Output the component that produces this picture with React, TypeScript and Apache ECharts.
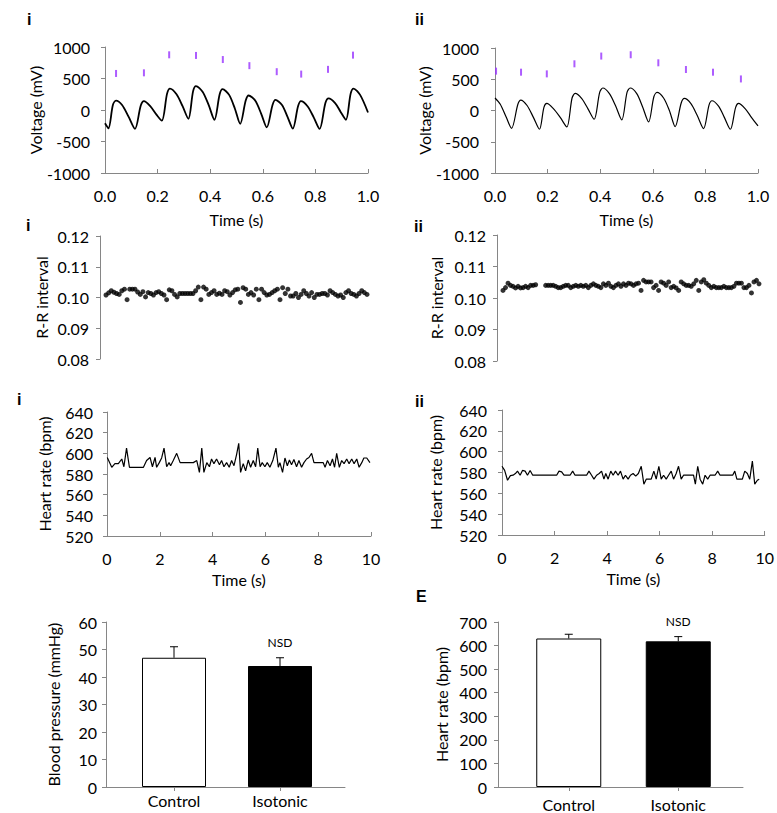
import React, { useEffect, useRef } from 'react';
import * as echarts from 'echarts';

// ---------- Data ----------
// Panel i: voltage trace [time s, mV]
const voltageTraceI: number[][] = [
  [0.000, -210], [0.013, -290], [0.030, 80], [0.042, 150], [0.065, 80], [0.090, -110], [0.114, -300],
  [0.136, 70], [0.148, 140], [0.172, 60], [0.195, -70], [0.216, -170],
  [0.236, 260], [0.247, 340], [0.272, 250], [0.295, 60], [0.317, -140],
  [0.335, 300], [0.346, 380], [0.371, 290], [0.394, 80], [0.416, -155],
  [0.436, 250], [0.447, 330], [0.472, 240], [0.494, 20], [0.514, -220],
  [0.535, 150], [0.546, 230], [0.571, 150], [0.594, -60], [0.615, -275],
  [0.637, 80], [0.648, 160], [0.673, 80], [0.694, -110], [0.714, -295],
  [0.734, 60], [0.745, 140], [0.770, 60], [0.794, -120], [0.816, -300],
  [0.838, 110], [0.850, 185], [0.875, 110], [0.896, -30], [0.916, -155],
  [0.934, 260], [0.945, 340], [0.970, 240], [1.000, -40],
];
const voltageMarksI: number[][] = [
  [0.042, 580], [0.148, 590], [0.244, 876], [0.346, 866], [0.448, 801],
  [0.549, 704], [0.653, 608], [0.746, 570], [0.848, 645], [0.943, 871],
];
// Panel ii: voltage trace
const voltageTraceII: number[][] = [
  [0.000, 200], [0.020, 100], [0.042, -100], [0.063, -285],
  [0.087, 100], [0.098, 167], [0.122, 80], [0.146, -110], [0.169, -300],
  [0.186, 50], [0.197, 113], [0.222, 30], [0.248, -110], [0.273, -263],
  [0.293, 200], [0.305, 274], [0.330, 190], [0.353, 30], [0.377, -140],
  [0.398, 290], [0.410, 360], [0.435, 270], [0.458, 80], [0.482, -150],
  [0.502, 290], [0.514, 360], [0.539, 270], [0.561, 60], [0.584, -183],
  [0.604, 220], [0.616, 290], [0.641, 200], [0.663, 0], [0.685, -258],
  [0.708, 120], [0.720, 194], [0.745, 110], [0.769, -80], [0.793, -290],
  [0.814, 90], [0.825, 156], [0.850, 70], [0.872, -110], [0.895, -300],
  [0.915, 50], [0.926, 113], [0.951, 30], [0.975, -110], [1.000, -247],
];
const voltageMarksII: number[][] = [
  [0.004, 630], [0.099, 613], [0.197, 586], [0.302, 747], [0.404, 871],
  [0.516, 892], [0.621, 763], [0.726, 656], [0.829, 613], [0.935, 505],
];

// R-R intervals (s), one per beat
const rrI: (number | string)[] = [
  0.1008, 0.1015, 0.1022, 0.1017, 0.1013, 0.1010, 0.1022, 0.1027, 0.0993, 0.1027,
  0.1027, 0.1027, 0.1018, 0.1010, 0.1019, 0.1002, 0.1016, 0.1013, 0.1008, 0.1016,
  0.1019, 0.1013, 0.1008, 0.0993, 0.1025, 0.1022, 0.1010, 0.1002, 0.1013, 0.1013,
  0.1013, 0.1013, 0.1013, 0.1013, 0.1022, 0.1034, 0.0993, 0.1034, 0.1027, 0.1010,
  0.1016, 0.1022, 0.1010, 0.1014, 0.1010, 0.1022, 0.1019, 0.1008, 0.1016, 0.1025,
  0.1027, 0.0984, 0.1032, 0.1027, 0.1010, 0.1016, 0.1008, 0.1027, 0.0993, 0.1027,
  0.1016, 0.1008, 0.1010, 0.1016, 0.1022, 0.1027, 0.0993, 0.1032, 0.1013, 0.1027,
  0.1005, 0.1005, 0.1013, 0.1000, 0.1010, 0.1022, 0.1013, 0.1005, 0.1016, 0.1000,
  0.1010, 0.1010, 0.1013, 0.1013, 0.1008, 0.1022, 0.1016, 0.1010, 0.1005, 0.1008,
  0.1000, 0.1016, 0.1022, 0.1013, 0.1010, 0.1005, 0.1013, 0.1022, 0.1016, 0.1010,
];
const rrII: (number | string)[] = [
  0.1024, 0.1033, 0.1047, 0.1040, 0.1037, 0.1032, 0.1037, 0.1032, 0.1033, 0.1037,
  0.1033, 0.1040, 0.1040, 0.1042, '-', '-', '-', 0.1040, 0.1040, 0.1040,
  0.1040, 0.1037, 0.1033, 0.1033, 0.1037, 0.1040, 0.1040, 0.1033, 0.1037, 0.1040,
  0.1037, 0.1040, 0.1037, 0.1040, 0.1033, 0.1040, 0.1045, 0.1040, 0.1037, 0.1033,
  0.1045, 0.1040, 0.1047, 0.1037, 0.1033, 0.1040, 0.1045, 0.1037, 0.1045, 0.1040,
  0.1047, 0.1045, 0.1040, 0.1045, 0.1047, 0.1024, 0.1056, 0.1051, 0.1051, 0.1051,
  0.1033, 0.1040, 0.1024, 0.1051, 0.1047, 0.1040, 0.1051, 0.1033, 0.1037, 0.1032,
  0.1024, 0.1051, 0.1045, 0.1040, 0.1040, 0.1037, 0.1045, 0.1056, 0.1024, 0.1051,
  0.1058, 0.1047, 0.1040, 0.1033, 0.1037, 0.1033, 0.1033, 0.1033, 0.1037, 0.1033,
  0.1033, 0.1033, 0.1037, 0.1047, 0.1047, 0.1047, 0.1033, 0.1033, 0.1040, 0.1016,
  0.1051, 0.1056, 0.1045,
];

// Heart rate traces [time s, bpm]
const heartRateI: number[][] = [
  [0.01, 596], [0.18, 586.5], [0.30, 590], [0.43, 590], [0.56, 594.5], [0.64, 587], [0.74, 605], [0.85, 586.5],
  [1.38, 586.5], [1.50, 593], [1.63, 596], [1.72, 587], [1.82, 596], [1.88, 586.5], [1.98, 591], [2.07, 595.5],
  [2.16, 605], [2.26, 587], [2.35, 591], [2.41, 588], [2.51, 593], [2.64, 600], [2.77, 591], [3.27, 591],
  [3.40, 593], [3.50, 581.6], [3.59, 605], [3.67, 581.6], [3.78, 591], [3.88, 587], [3.96, 594.5], [4.05, 590],
  [4.15, 594.5], [4.26, 589], [4.34, 593], [4.43, 587], [4.53, 591], [4.63, 586.5], [4.72, 593], [4.81, 588],
  [4.91, 599], [4.99, 609.7], [5.06, 581.6], [5.16, 590], [5.25, 583], [5.35, 593.5], [5.44, 586.5], [5.54, 593],
  [5.63, 587], [5.71, 605], [5.80, 587], [5.88, 591], [5.98, 587], [6.07, 591], [6.17, 586.5], [6.28, 593],
  [6.40, 605], [6.49, 586.5], [6.55, 591], [6.65, 581.6], [6.74, 595.5], [6.83, 588], [6.91, 593.5], [6.99, 589],
  [7.08, 594], [7.18, 587], [7.27, 593], [7.37, 586.5], [7.46, 591], [7.56, 594.5], [7.65, 596], [7.75, 600],
  [7.84, 591], [8.19, 591], [8.26, 586.5], [8.35, 593], [8.45, 588], [8.54, 594.5], [8.62, 586.5], [8.70, 600],
  [8.80, 586.5], [8.89, 593], [8.98, 590], [9.08, 594.5], [9.17, 590], [9.27, 594.5], [9.36, 590], [9.46, 594.5],
  [9.55, 586.5], [9.65, 591], [9.73, 595.5], [9.84, 595.5], [9.96, 591],
];
const heartRateII: number[][] = [
  [0.00, 586], [0.10, 582], [0.21, 572.6], [0.32, 577], [0.42, 577.4], [0.51, 579], [0.59, 581.3], [0.69, 577.4],
  [0.78, 582], [0.88, 581.3], [0.97, 577.4], [1.07, 582], [1.17, 577.4], [2.08, 577.4], [2.17, 581.3], [2.27, 580.6],
  [2.36, 577.4], [2.59, 577.4], [2.69, 581.3], [2.78, 577.4], [3.22, 577.4], [3.31, 581.3], [3.41, 577.4], [3.50, 573.6],
  [3.60, 577.4], [3.70, 579], [3.79, 581.3], [3.88, 573.6], [3.95, 579], [4.04, 573.6], [4.14, 581.3], [4.23, 577.4],
  [4.32, 581.3], [4.42, 577.4], [4.51, 581.3], [4.61, 573.6], [4.70, 577.4], [4.80, 573.6], [4.89, 577.4], [4.99, 579],
  [5.09, 576.5], [5.19, 579], [5.30, 586], [5.40, 568.8], [5.49, 573.6], [5.68, 573.6], [5.78, 581.3], [5.87, 573.6],
  [5.97, 586], [6.06, 573.6], [6.15, 577.4], [6.25, 573.6], [6.34, 577.4], [6.44, 581.3], [6.53, 573.6], [6.63, 579],
  [6.72, 586], [6.82, 573.6], [6.91, 577.4], [7.29, 577.4], [7.36, 568.8], [7.45, 586], [7.54, 573.6], [7.64, 568.8],
  [7.73, 577.4], [7.83, 573.6], [7.92, 577.4], [8.11, 577.4], [8.21, 581.3], [8.30, 577.4], [8.78, 577.4], [8.86, 581.3],
  [8.94, 573.6], [9.15, 573.6], [9.24, 581.3], [9.34, 579], [9.43, 573.6], [9.53, 590.9], [9.62, 568.8], [9.72, 572.6],
  [9.79, 573.6],
];

// Bar charts
const groups = ['Control', 'Isotonic'];
const bloodPressure = [47, 44];
const bloodPressureErr = [4, 3];
const barHeartRate = [630, 618];
const barHeartRateErr = [18, 20];

// ---------- Styling helpers ----------
const FONT = 'Lato';
const AXIS_GREY = '#868686';
const TXT = '#000';
const FS = 16;

function yAxis(gridIndex: number, min: number, max: number, interval: number, name: string,
  nameGap: number, offset: number, margin: number, decimals?: number) {
  return {
    type: 'value', gridIndex, min, max, interval, offset,
    name, nameLocation: 'middle', nameGap,
    nameTextStyle: { fontSize: FS, color: TXT, fontFamily: FONT },
    axisLine: { show: true, lineStyle: { color: AXIS_GREY, width: 1 } },
    axisTick: { show: true, length: 4, lineStyle: { color: AXIS_GREY } },
    axisLabel: {
      fontSize: FS, color: TXT, fontFamily: FONT, margin,
      formatter: (v: number) => (decimals !== undefined ? v.toFixed(decimals) : String(v)),
    },
    splitLine: { show: false },
  };
}

function xValueAxis(gridIndex: number, min: number, max: number, interval: number, decimals: number, nameGap: number) {
  return {
    type: 'value', gridIndex, min, max, interval,
    name: 'Time (s)', nameLocation: 'middle', nameGap,
    nameTextStyle: { fontSize: FS, color: TXT, fontFamily: FONT },
    axisLine: { show: true, onZero: false, lineStyle: { color: AXIS_GREY, width: 1 } },
    axisTick: { show: true, inside: true, length: 4, lineStyle: { color: AXIS_GREY } },
    axisLabel: { fontSize: FS, color: TXT, fontFamily: FONT, margin: 14, formatter: (v: number) => v.toFixed(decimals) },
    splitLine: { show: false },
  };
}

function hiddenCategoryAxis(gridIndex: number, count: number) {
  const cats: string[] = [];
  for (let i = 0; i < count; i++) cats.push(String(i));
  return { type: 'category', gridIndex, data: cats, boundaryGap: false, show: false };
}

function barCategoryAxis(gridIndex: number, margin: number) {
  return {
    type: 'category', gridIndex, data: groups,
    axisLine: { show: false },
    axisTick: { show: true, alignWithLabel: true, length: 4, lineStyle: { color: AXIS_GREY } },
    axisLabel: { fontSize: FS, color: TXT, fontFamily: FONT, margin },
  };
}

function lineOnlyAxes(gridIndex: number) {
  return {
    x: {
      type: 'value', gridIndex, min: 0, max: 1,
      axisLine: { show: true, onZero: false, lineStyle: { color: AXIS_GREY, width: 1 } },
      axisTick: { show: false }, axisLabel: { show: false }, splitLine: { show: false },
    },
    y: { type: 'value', gridIndex, min: 0, max: 1, show: false, splitLine: { show: false } },
  };
}

const errorRender = (params: any, api: any) => {
  const x = api.value(0);
  const y = api.value(1);
  const e = api.value(2);
  const base = api.coord([x, y]);
  const top = api.coord([x, y + e]);
  return {
    type: 'group',
    children: [
      { type: 'line', shape: { x1: base[0], y1: base[1], x2: top[0], y2: top[1] }, style: { stroke: '#000', lineWidth: 1 } },
      { type: 'line', shape: { x1: top[0] - 4, y1: top[1], x2: top[0] + 4, y2: top[1] }, style: { stroke: '#000', lineWidth: 1 } },
    ],
  };
};

function barSeries(axisIndex: number, values: number[], barWidth: number, nsdDistance: number) {
  return {
    type: 'bar', xAxisIndex: axisIndex, yAxisIndex: axisIndex, barWidth,
    data: [
      { value: values[0], itemStyle: { color: '#fff', borderColor: '#000', borderWidth: 1 } },
      {
        value: values[1], itemStyle: { color: '#000', borderColor: '#000', borderWidth: 1 },
        label: { show: true, position: 'top', distance: nsdDistance, formatter: 'NSD', fontSize: 12, color: TXT, fontFamily: FONT },
      },
    ],
  };
}

function errorSeries(axisIndex: number, values: number[], errs: number[]) {
  return {
    type: 'custom', xAxisIndex: axisIndex, yAxisIndex: axisIndex, z: 5,
    renderItem: errorRender,
    encode: { x: 0, y: 1 },
    data: values.map((v, i) => [i, v, errs[i]]),
  };
}

function panelLabel(text: string, x: number, y: number) {
  return {
    type: 'text', left: x, top: y,
    style: { text, fontSize: 16, fontWeight: 'bold', fill: '#000', fontFamily: 'Liberation Sans' },
  };
}

export default function App() {
  const ref = useRef<HTMLDivElement>(null);
  useEffect(() => {
    if (!ref.current) return;
    const chart = echarts.init(ref.current, null, { renderer: 'svg' });
    const extra1 = lineOnlyAxes(8);
    const extra2 = lineOnlyAxes(9);
    const option: any = {
      animation: false,
      backgroundColor: '#fff',
      textStyle: { fontFamily: FONT },
      grid: [
        { left: 105, top: 47, width: 263, height: 126 },
        { left: 495, top: 48, width: 263, height: 125 },
        { left: 106, top: 236, width: 261, height: 123 },
        { left: 503, top: 235, width: 256, height: 126 },
        { left: 107, top: 412, width: 264, height: 124 },
        { left: 502, top: 410, width: 264, height: 125 },
        { left: 121, top: 622, width: 212, height: 165 },
        { left: 514, top: 622, width: 219, height: 165 },
        { left: 106, top: 622, width: 239, height: 165 },
        { left: 498, top: 622, width: 245, height: 165 },
      ],
      xAxis: [
        xValueAxis(0, 0, 1, 0.2, 1, 38),
        xValueAxis(1, 0, 1, 0.2, 1, 38),
        hiddenCategoryAxis(2, rrI.length),
        hiddenCategoryAxis(3, rrII.length),
        xValueAxis(4, 0, 10, 2, 0, 35),
        xValueAxis(5, 0, 10, 2, 0, 35),
        barCategoryAxis(6, 5),
        barCategoryAxis(7, 9),
        extra1.x,
        extra2.x,
      ],
      yAxis: [
        yAxis(0, -1000, 1000, 500, 'Voltage (mV)', 55, 3, 12),
        yAxis(1, -1000, 1000, 500, 'Voltage (mV)', 55, 4, 12),
        yAxis(2, 0.08, 0.12, 0.01, 'R-R interval', 51, 6, 11, 2),
        yAxis(3, 0.08, 0.12, 0.01, 'R-R interval', 53, 6, 11, 2),
        yAxis(4, 520, 640, 20, 'Heart rate (bpm)', 52, 3, 11),
        yAxis(5, 520, 640, 20, 'Heart rate (bpm)', 55, 4, 11),
        yAxis(6, 0, 60, 10, 'Blood pressure (mmHg)', 45, 15, 9),
        yAxis(7, 0, 700, 100, 'Heart rate (bpm)', 49, 16, 11),
        extra1.y,
        extra2.y,
      ],
      series: [
        { type: 'line', xAxisIndex: 0, yAxisIndex: 0, data: voltageTraceI, smooth: 0.3, showSymbol: false, lineStyle: { color: '#000', width: 1.8 } },
        { type: 'scatter', xAxisIndex: 0, yAxisIndex: 0, data: voltageMarksI, symbol: 'rect', symbolSize: [2, 7], itemStyle: { color: '#9933ff' } },
        { type: 'line', xAxisIndex: 1, yAxisIndex: 1, data: voltageTraceII, smooth: 0.3, showSymbol: false, lineStyle: { color: '#000', width: 1.2 } },
        { type: 'scatter', xAxisIndex: 1, yAxisIndex: 1, data: voltageMarksII, symbol: 'rect', symbolSize: [2, 7], itemStyle: { color: '#9933ff' } },
        { type: 'scatter', xAxisIndex: 2, yAxisIndex: 2, data: rrI, symbol: 'circle', symbolSize: 5, itemStyle: { color: '#000' } },
        { type: 'scatter', xAxisIndex: 3, yAxisIndex: 3, data: rrII, symbol: 'circle', symbolSize: 5, itemStyle: { color: '#000' } },
        { type: 'line', xAxisIndex: 4, yAxisIndex: 4, data: heartRateI, showSymbol: false, lineStyle: { color: '#000', width: 1.2 } },
        { type: 'line', xAxisIndex: 5, yAxisIndex: 5, data: heartRateII, showSymbol: false, lineStyle: { color: '#000', width: 1.2 } },
        barSeries(6, bloodPressure, 64, 18),
        errorSeries(6, bloodPressure, bloodPressureErr),
        barSeries(7, barHeartRate, 65, 14),
        errorSeries(7, barHeartRate, barHeartRateErr),
      ],
      graphic: [
        panelLabel('i', 27, 11),
        panelLabel('ii', 415, 11),
        panelLabel('i', 26, 217),
        panelLabel('ii', 414, 218),
        panelLabel('i', 17, 391),
        panelLabel('ii', 415, 393),
        panelLabel('E', 416, 588),
      ],
    };
    chart.setOption(option);
    return () => chart.dispose();
  }, []);
  return (
    <div
      ref={ref}
      style={{ position: 'absolute', left: 0, top: 0, width: 777, height: 813, background: '#fff' }}
    />
  );
}
